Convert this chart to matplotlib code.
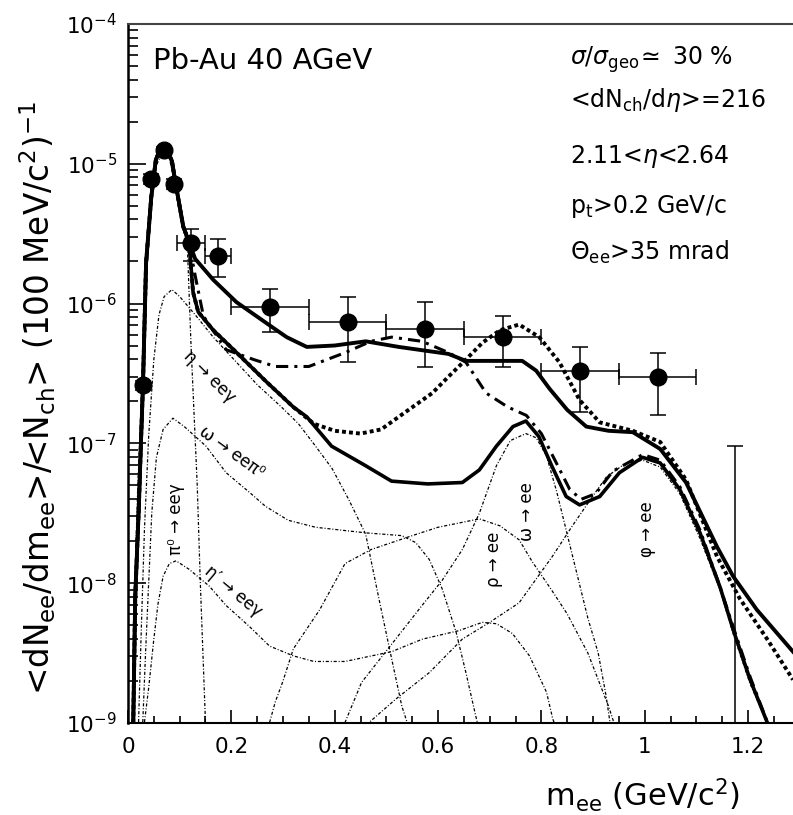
import numpy as np
import matplotlib.pyplot as plt
from matplotlib.ticker import MultipleLocator, FixedLocator, LogLocator, FuncFormatter, NullFormatter

plt.rcParams['font.family'] = ['DejaVu Sans']
plt.rcParams['mathtext.fontset'] = 'dejavusans'

# measured e+e- yield per event (CERES Pb-Au 40 AGeV)
data_m = [0.03, 0.045, 0.07, 0.09, 0.122, 0.175, 0.275, 0.425, 0.575, 0.725, 0.875, 1.025]
data_dm = [0.005, 0.005, 0.005, 0.005, 0.027, 0.025, 0.075, 0.075, 0.075, 0.075, 0.075, 0.075]
data_y = [2.6e-7, 7.8e-6, 1.25e-5, 7.2e-6, 2.7e-6, 2.2e-6, 9.5e-7, 7.4e-7, 6.6e-7, 5.8e-7, 3.3e-7, 3.0e-7]
data_hi = [2.8e-7, 8.4e-6, 1.32e-5, 7.8e-6, 3.4e-6, 2.9e-6, 1.28e-6, 1.12e-6, 1.02e-6, 8.1e-7, 4.9e-7, 4.4e-7]
data_lo = [2.4e-7, 7.2e-6, 1.18e-5, 6.6e-6, 2.0e-6, 1.55e-6, 6.3e-7, 3.8e-7, 3.5e-7, 3.5e-7, 1.67e-7, 1.6e-7]
# last bin: only an upper bound
ul_m = 1.175
ul_y = 9.5e-8

# model curves, values given as log10 of the yield
# common pi0 peak region of the summed curves
peak_m = [0.010, 0.014, 0.021, 0.025, 0.029, 0.035, 0.045, 0.054, 0.062, 0.075, 0.085, 0.093, 0.107, 0.118]
peak_lg = [-9.05, -8.1, -7.45, -7.0, -6.58, -5.71, -5.24, -4.97, -4.9, -4.9, -4.98, -5.16, -5.45, -5.56]

medium_m = [0.13, 0.165, 0.21, 0.268, 0.307, 0.346, 0.40, 0.46, 0.524, 0.62, 0.654, 0.763, 0.79,
            0.816, 0.85, 0.887, 0.93, 0.977, 1.03, 1.08, 1.14, 1.171, 1.217, 1.287]
medium_lg = [-5.68, -5.83, -5.99, -6.14, -6.24, -6.31, -6.3, -6.27, -6.31, -6.36, -6.41, -6.41, -6.48,
             -6.61, -6.76, -6.88, -6.91, -6.92, -7.04, -7.28, -7.74, -7.95, -8.19, -8.49]

cocktail_m = [0.126, 0.136, 0.165, 0.21, 0.268, 0.32, 0.346, 0.394, 0.46, 0.51, 0.58, 0.647, 0.68,
              0.713, 0.745, 0.77, 0.795, 0.82, 0.848, 0.874, 0.913, 0.951, 0.996, 1.03, 1.068,
              1.107, 1.146, 1.171, 1.204, 1.243]
cocktail_lg = [-5.92, -6.06, -6.19, -6.35, -6.56, -6.74, -6.81, -7.02, -7.16, -7.27, -7.29, -7.28, -7.19,
               -7.02, -6.88, -6.84, -6.95, -7.16, -7.38, -7.44, -7.38, -7.21, -7.1, -7.14, -7.33,
               -7.64, -8.03, -8.33, -8.69, -9.05]

vacuum_m = [0.126, 0.136, 0.165, 0.21, 0.268, 0.32, 0.36, 0.4, 0.45, 0.49, 0.524, 0.589, 0.621, 0.654,
            0.686, 0.72, 0.757, 0.796, 0.835, 0.874, 0.913, 0.977, 1.03, 1.08, 1.14, 1.184, 1.237, 1.287]
vacuum_lg = [-5.92, -6.06, -6.19, -6.35, -6.56, -6.74, -6.86, -6.91, -6.93, -6.9, -6.81, -6.64, -6.52, -6.4,
             -6.28, -6.19, -6.15, -6.24, -6.42, -6.69, -6.85, -6.91, -6.99, -7.26, -7.81, -8.11, -8.4, -8.69]

dropping_m = [0.13, 0.146, 0.19, 0.243, 0.285, 0.35, 0.421, 0.47, 0.51, 0.569, 0.62, 0.654, 0.693, 0.735,
              0.771, 0.8, 0.829, 0.855, 0.877, 0.905, 0.938, 0.996, 1.03, 1.068, 1.107, 1.146, 1.171,
              1.204, 1.243]
dropping_lg = [-5.8, -6.09, -6.33, -6.4, -6.45, -6.45, -6.35, -6.27, -6.24, -6.27, -6.35, -6.42, -6.64, -6.74,
               -6.8, -6.93, -7.14, -7.33, -7.4, -7.36, -7.2, -7.08, -7.12, -7.31, -7.62, -8.03, -8.31,
               -8.67, -9.05]

# individual hadron decay contributions
pi0_m = [0.008, 0.012, 0.018, 0.025, 0.03, 0.04, 0.05, 0.065, 0.08, 0.095, 0.11, 0.115, 0.118, 0.122,
         0.128, 0.134, 0.14, 0.145, 0.152]
pi0_lg = [-9.05, -8.2, -7.4, -6.8, -6.3, -5.5, -5.05, -4.93, -4.96, -5.2, -5.5, -5.6, -5.9, -6.3,
          -6.8, -7.3, -8.0, -8.5, -9.2]

eta_m = [0.02, 0.026, 0.032, 0.04, 0.05, 0.06, 0.07, 0.085, 0.1, 0.13, 0.165, 0.21, 0.25, 0.297, 0.33,
         0.363, 0.395, 0.427, 0.46, 0.485, 0.505, 0.53, 0.545]
eta_lg = [-9.05, -8.3, -7.6, -6.95, -6.4, -6.08, -5.95, -5.9, -5.95, -6.08, -6.24, -6.42, -6.58, -6.74, -6.86,
          -7.02, -7.18, -7.4, -7.65, -8.1, -8.45, -8.88, -9.05]

omega_dalitz_m = [0.028, 0.034, 0.04, 0.046, 0.055, 0.068, 0.087, 0.109, 0.151, 0.19, 0.235, 0.266, 0.31,
                  0.363, 0.46, 0.53, 0.557, 0.583, 0.608, 0.635, 0.654, 0.673, 0.68]
omega_dalitz_lg = [-9.05, -8.5, -8.0, -7.5, -7.1, -6.9, -6.82, -6.88, -7.02, -7.21, -7.35, -7.45, -7.55,
                   -7.6, -7.64, -7.66, -7.71, -7.83, -8.04, -8.35, -8.64, -8.95, -9.05]

etap_m = [0.03, 0.04, 0.05, 0.058, 0.068, 0.08, 0.093, 0.118, 0.157, 0.19, 0.235, 0.274, 0.32, 0.36, 0.42,
          0.51, 0.57, 0.64, 0.686, 0.713, 0.744, 0.777, 0.81, 0.822, 0.83]
etap_lg = [-9.05, -8.75, -8.4, -8.15, -7.95, -7.86, -7.84, -7.9, -8.02, -8.16, -8.31, -8.45, -8.52, -8.56,
           -8.56, -8.49, -8.4, -8.34, -8.28, -8.29, -8.36, -8.52, -8.78, -8.97, -9.05]

rho_m = [0.27, 0.285, 0.3, 0.32, 0.371, 0.42, 0.47, 0.55, 0.6, 0.68, 0.72, 0.757, 0.783, 0.82, 0.85, 0.89,
         0.93, 0.945]
rho_lg = [-9.05, -8.85, -8.7, -8.47, -8.19, -7.86, -7.76, -7.66, -7.6, -7.54, -7.59, -7.69, -7.85, -8.05,
          -8.22, -8.5, -8.88, -9.05]

omega_m = [0.414, 0.452, 0.518, 0.569, 0.608, 0.647, 0.68, 0.713, 0.74, 0.77, 0.79, 0.81, 0.83, 0.85, 0.87,
           0.89, 0.91, 0.925, 0.935]
omega_lg = [-9.05, -8.71, -8.4, -8.16, -7.98, -7.76, -7.5, -7.16, -6.98, -6.93, -6.96, -7.09, -7.35, -7.65,
            -7.95, -8.25, -8.5, -8.8, -9.05]

phi_m = [0.45, 0.518, 0.583, 0.647, 0.7, 0.757, 0.821, 0.86, 0.899, 0.926, 0.96, 0.996, 1.03, 1.068, 1.107,
         1.146, 1.171, 1.204, 1.243]
phi_lg = [-9.05, -8.83, -8.64, -8.4, -8.28, -8.14, -7.81, -7.59, -7.38, -7.24, -7.15, -7.12, -7.17, -7.36,
          -7.68, -8.05, -8.36, -8.72, -9.05]

decades = [1e-9, 1e-8, 1e-7, 1e-6, 1e-5, 1e-4]

fig = plt.figure(figsize=(7.93, 8.15), dpi=100)
ax = fig.add_axes([0.1614, 0.1129, 0.8386, 0.8577])

thin = dict(color='black', lw=0.9, ls=(0, (2.5, 1.5, 0.8, 1.5)))
for m, lg in [(pi0_m, pi0_lg), (eta_m, eta_lg), (omega_dalitz_m, omega_dalitz_lg), (etap_m, etap_lg),
              (rho_m, rho_lg), (omega_m, omega_lg), (phi_m, phi_lg)]:
    ax.plot(m, 10 ** np.array(lg), **thin)

ax.plot(peak_m + vacuum_m, 10 ** np.array(peak_lg + vacuum_lg), color='black', lw=2.8, ls=(0, (1, 0.8)))
ax.plot(peak_m + dropping_m, 10 ** np.array(peak_lg + dropping_lg), color='black', lw=2.2,
        ls=(0, (4, 2, 1, 2)))
ax.plot(peak_m + cocktail_m, 10 ** np.array(peak_lg + cocktail_lg), color='black', lw=2.6)
ax.plot(peak_m + medium_m, 10 ** np.array(peak_lg + medium_lg), color='black', lw=2.8)

yerr = [np.array(data_y) - np.array(data_lo), np.array(data_hi) - np.array(data_y)]
ax.errorbar(data_m, data_y, xerr=data_dm, yerr=yerr, fmt='o', color='black', ms=12,
            elinewidth=1.1, capsize=6, capthick=1.1)
# upper-limit bar runs down out of the frame
ax.vlines(ul_m, 1e-10, ul_y, color='black', lw=1.1)
ax.plot([ul_m], [ul_y], marker='_', ms=12, mew=1.1, color='black')

ax.set_yscale('log')
ax.set_xlim(0, 1.287)
ax.set_ylim(1e-9, 1e-4)

ax.xaxis.set_major_locator(MultipleLocator(0.2))
ax.xaxis.set_minor_locator(MultipleLocator(0.05))
ax.xaxis.set_major_formatter(FuncFormatter(lambda v, p: f'{v:g}'))
ax.yaxis.set_major_locator(FixedLocator(decades))
ax.yaxis.set_minor_locator(LogLocator(base=10, subs=np.arange(2, 10), numticks=20))
ax.yaxis.set_minor_formatter(NullFormatter())

ax.tick_params(axis='x', which='both', direction='in', top=False, labelsize=15.5, pad=10, width=1.2)
ax.tick_params(axis='x', which='major', length=9.5)
ax.tick_params(axis='x', which='minor', length=5)
ax.tick_params(axis='y', which='both', direction='in', right=False, labelsize=15.5, pad=8, width=1.2)
ax.tick_params(axis='y', which='major', length=13)
ax.tick_params(axis='y', which='minor', length=7)

ax.spines['right'].set_visible(False)
ax.spines['left'].set_linewidth(1.8)
ax.spines['bottom'].set_linewidth(1.5)
ax.spines['top'].set_linewidth(1.5)
ax.spines['top'].set_color('#444444')

# axis titles placed in figure pixels
fig.text(38 / 793, 1 - 398 / 815,
         r'<dN$_{\rm ee}$/dm$_{\rm ee}$>/<N$_{\rm ch}$> (100 MeV/c$^{2}$)$^{-1}$',
         rotation=90, ha='center', va='center', fontsize=23.5)
fig.text(740 / 793, 1 - 795 / 815, r'm$_{\rm ee}$ (GeV/c$^{2}$)', ha='right', va='center', fontsize=22)

fig.text(153 / 793, 1 - 69 / 815, 'Pb-Au 40 AGeV', fontsize=21, va='baseline')
info = [r'$\sigma/\sigma_{\rm geo}\!\simeq$ 30 %',
        r'<dN$_{\rm ch}$/d$\eta$>=216',
        r'2.11<$\eta$<2.64',
        r'p$_{\rm t}$>0.2 GeV/c',
        r'$\Theta_{\rm ee}$>35 mrad']
for txt, base in zip(info, [65, 107, 163, 213, 260]):
    fig.text(570 / 793, 1 - base / 815, txt, fontsize=17, va='baseline')

# decay channel labels
ax.text(0.157, 10 ** -6.52, 'η → eeγ', rotation=-45, fontsize=12, ha='center', va='center')
ax.text(0.2, 10 ** -7.06, 'ω → eeπ⁰', rotation=-36, fontsize=12, ha='center', va='center')
ax.text(0.204, 10 ** -8.06, "η′ → eeγ", rotation=-40, fontsize=12, ha='center', va='center')
ax.text(0.093, 10 ** -7.54, 'π⁰ → eeγ', rotation=90, fontsize=12, ha='center', va='center')
ax.text(0.709, 10 ** -7.83, 'ρ → ee', rotation=90, fontsize=12, ha='center', va='center')
ax.text(0.773, 10 ** -7.49, 'ω → ee', rotation=90, fontsize=12, ha='center', va='center')
ax.text(1.004, 10 ** -7.61, 'φ → ee', rotation=90, fontsize=12, ha='center', va='center')

fig.savefig('out.png', dpi=100)
